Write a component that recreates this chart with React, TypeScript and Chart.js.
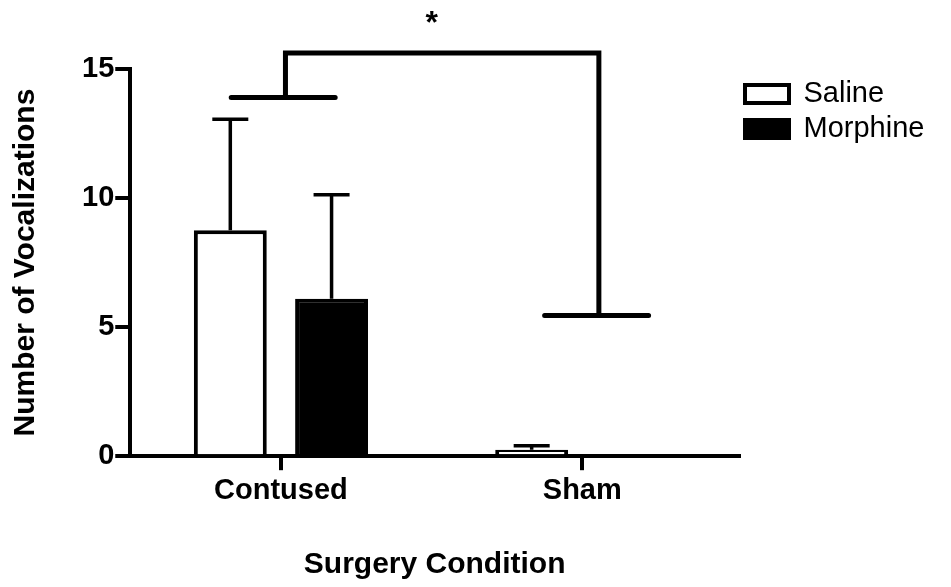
import React, { useEffect, useRef } from 'react';
import { Chart, registerables } from 'chart.js';

Chart.register(...registerables);

// ---- data ----
const categories = ['Contused', 'Sham'];
const salineMeans = [8.75, 0.25];
const salineSEM = [4.3, 0.15];
const morphineMeans = [6.1, 0];
const morphineSEM = [4.03, 0];
const yTickValues = [0, 5, 10, 15];

// significance bracket (x in category units, y in data units)
const bracketLeftX = [-0.165, 0.015, 0.18]; // left end, stem, right end
const bracketLeftY = 13.9;
const bracketRightX = [0.875, 1.055, 1.22];
const bracketRightY = 5.45;
const bracketTopY = 15.62;
const starText = '*';
const starX = 0.5;
const starY = 16.4;

const FONT = '"Liberation Sans", Arial, Helvetica, sans-serif';

const annotations = {
  id: 'annotations',
  afterDatasetsDraw(chart: any) {
    const { ctx } = chart;
    const x = chart.scales.x;
    const y = chart.scales.y;
    ctx.save();
    ctx.strokeStyle = '#000';
    ctx.fillStyle = '#000';
    // error bars
    const sems = [salineSEM, morphineSEM];
    const means = [salineMeans, morphineMeans];
    chart.data.datasets.forEach((_ds: any, di: number) => {
      const meta = chart.getDatasetMeta(di);
      meta.data.forEach((bar: any, i: number) => {
        const s = sems[di][i];
        if (!s) return;
        const base = y.getPixelForValue(means[di][i]);
        const top = y.getPixelForValue(means[di][i] + s);
        ctx.lineWidth = 3.5;
        ctx.lineCap = 'butt';
        ctx.beginPath();
        ctx.moveTo(bar.x, base);
        ctx.lineTo(bar.x, top);
        ctx.moveTo(bar.x - 18, top);
        ctx.lineTo(bar.x + 18, top);
        ctx.stroke();
      });
    });
    // bracket
    ctx.lineWidth = 5;
    ctx.lineJoin = 'miter';
    ctx.lineCap = 'round';
    ctx.beginPath();
    ctx.moveTo(x.getPixelForValue(bracketLeftX[0]), y.getPixelForValue(bracketLeftY));
    ctx.lineTo(x.getPixelForValue(bracketLeftX[2]), y.getPixelForValue(bracketLeftY));
    ctx.moveTo(x.getPixelForValue(bracketRightX[0]), y.getPixelForValue(bracketRightY));
    ctx.lineTo(x.getPixelForValue(bracketRightX[2]), y.getPixelForValue(bracketRightY));
    ctx.stroke();
    ctx.lineCap = 'butt';
    ctx.beginPath();
    ctx.moveTo(x.getPixelForValue(bracketLeftX[1]), y.getPixelForValue(bracketLeftY));
    ctx.lineTo(x.getPixelForValue(bracketLeftX[1]), y.getPixelForValue(bracketTopY));
    ctx.lineTo(x.getPixelForValue(bracketRightX[1]), y.getPixelForValue(bracketTopY));
    ctx.lineTo(x.getPixelForValue(bracketRightX[1]), y.getPixelForValue(bracketRightY));
    ctx.stroke();
    // star
    ctx.font = `bold 32px ${FONT}`;
    ctx.textAlign = 'center';
    ctx.textBaseline = 'alphabetic';
    ctx.fillText(starText, x.getPixelForValue(starX), y.getPixelForValue(starY));
    ctx.restore();
  },
};

export default function App() {
  const ref = useRef<HTMLCanvasElement>(null);
  useEffect(() => {
    const chart = new Chart(ref.current as HTMLCanvasElement, {
      type: 'bar',
      data: {
        datasets: [
          {
            label: 'Saline',
            data: salineMeans.map((v, i) => ({ x: i, y: v })),
            backgroundColor: '#ffffff',
            borderColor: '#000000',
            borderWidth: 4,
            categoryPercentage: 0.672,
            barPercentage: 0.72,
          },
          {
            label: 'Morphine',
            data: morphineMeans.map((v, i) => ({ x: i, y: v })),
            backgroundColor: '#000000',
            borderColor: '#000000',
            borderWidth: 4,
            categoryPercentage: 0.672,
            barPercentage: 0.72,
          },
        ],
      },
      options: {
        animation: false,
        responsive: true,
        maintainAspectRatio: false,
        layout: { padding: { top: 69, bottom: 4, left: 2, right: 16.6 } },
        plugins: {
          tooltip: { enabled: false },
          legend: {
            position: 'right',
            align: 'start',
            fullSize: false,
            title: { display: true, text: '', font: { size: 2 }, padding: { top: 2, bottom: 0 } },
            labels: {
              boxWidth: 44,
              boxHeight: 18,
              padding: 6,
              color: '#000',
              font: { family: FONT, size: 29 },
            },
          },
        },
        scales: {
          x: {
            type: 'linear',
            z: 1,
            min: -0.5,
            max: 1.52,
            offset: false,
            afterBuildTicks: (scale: any) => {
              scale.ticks = categories.map((_c, i) => ({ value: i }));
            },
            grid: {
              offset: false,
              drawOnChartArea: false,
              drawTicks: true,
              tickLength: 14,
              tickWidth: 4,
              tickColor: '#000',
              color: '#000',
              lineWidth: 4,
            },
            border: { display: true, color: '#000', width: 4 },
            ticks: {
              color: '#000',
              padding: 3,
              autoSkip: false,
              maxRotation: 0,
              font: { family: FONT, size: 29, weight: 'bold' },
              callback: (v: any) => categories[v as number] ?? '',
            },
            title: {
              display: true,
              text: 'Surgery Condition',
              color: '#000',
              font: { family: FONT, size: 30, weight: 'bold' },
              padding: { top: 36, bottom: 0 },
            },
          },
          y: {
            min: 0,
            max: 15,
            afterBuildTicks: (scale: any) => {
              scale.ticks = yTickValues.map((v) => ({ value: v }));
            },
            grid: {
              drawOnChartArea: false,
              drawTicks: true,
              tickLength: 15,
              tickWidth: 4,
              tickColor: '#000',
              color: '#000',
              lineWidth: 4,
            },
            border: { display: true, color: '#000', width: 4 },
            ticks: { color: '#000', padding: 1, font: { family: FONT, size: 29, weight: 'bold' } },
            title: {
              display: true,
              text: 'Number of Vocalizations',
              color: '#000',
              font: { family: FONT, size: 30, weight: 'bold' },
              padding: { top: 6, bottom: 37 },
            },
          },
        },
      },
      plugins: [annotations],
    });
    return () => chart.destroy();
  }, []);
  return (
    <div style={{ position: 'absolute', left: 0, top: 0, width: 951, height: 587, background: '#fff' }}>
      <canvas ref={ref} />
    </div>
  );
}
